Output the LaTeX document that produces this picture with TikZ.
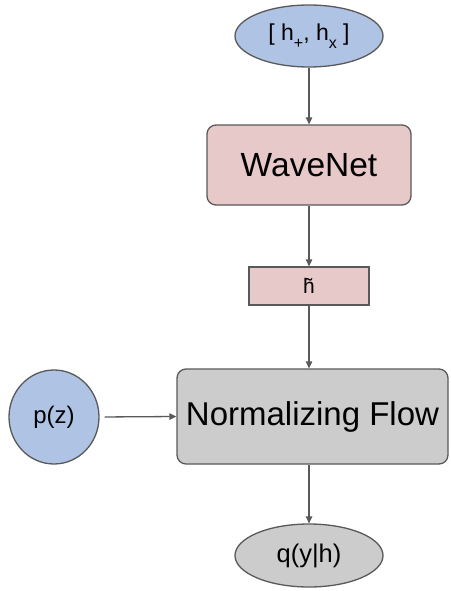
\documentclass[tikz,border=0pt]{standalone}
\usepackage{fontspec}
\setmainfont{Liberation Sans}
\usetikzlibrary{shapes.geometric,arrows.meta}

\definecolor{ovalblue}{HTML}{AFC3E5}
\definecolor{netpink}{HTML}{E8C9C9}
\definecolor{flowgray}{HTML}{CCCCCC}
\definecolor{edgegray}{HTML}{595959}

\newcommand{\lowsub}[1]{\raisebox{-0.32em}{\fontsize{16}{18}\selectfont #1}}

\tikzset{
  oval/.style={ellipse, draw=edgegray, line width=1.3pt, inner sep=0pt},
  block/.style={rectangle, rounded corners=9pt, draw=edgegray, line width=1.3pt, inner sep=0pt},
  link/.style={draw=edgegray, line width=1.3pt, -{Triangle[length=7pt,width=6.5pt]}}
}

\begin{document}
\begin{tikzpicture}[x=1pt, y=-1pt]
\useasboundingbox (0,0) rectangle (450,591);

%% ---- Ingresso ----
\node[oval, fill=ovalblue, minimum width=148pt, minimum height=62pt,
      font=\fontsize{23}{26}\selectfont]
    (hin) at (309,36) {[ h\lowsub{+}, h\lowsub{x} ]};

%% ---- WaveNet ----
\node[block, fill=netpink, minimum width=204pt, minimum height=80pt,
      font=\fontsize{33.5}{38}\selectfont]
    (wavenet) at (309,165) {WaveNet};

%% ---- Rappresentazione ----
\node[block, rounded corners=0pt, fill=netpink, minimum width=120pt, minimum height=38pt,
      font=\fontsize{21}{24}\selectfont]
    (htilde) at (309,286) {h̃};

%% ---- Normalizing Flow ----
\node[block, fill=flowgray, minimum width=271pt, minimum height=95pt,
      font=\fontsize{33}{38}\selectfont]
    (nflow) at (312.5,416.5) {Normalizing Flow};

%% ---- Prior ----
\node[oval, fill=ovalblue, minimum width=90pt, minimum height=94pt,
      font=\fontsize{24}{27}\selectfont]
    (prior) at (54,417) {p(z)};

%% ---- Uscita ----
\node[oval, fill=flowgray, minimum width=148pt, minimum height=63pt,
      font=\fontsize{25.5}{28}\selectfont]
    (qout) at (309,555.5) {q(y|h)};

%% ---- Frecce ----
\draw[link] (hin.south) -- (wavenet.north);
\draw[link] (wavenet.south) -- (htilde.north);
\draw[link] (htilde.south) -- (htilde.south |- nflow.north);
\draw[link, shorten <=5pt] (prior.east) -- (nflow.west);
\draw[link] (htilde.south |- nflow.south) -- (qout.north);

\end{tikzpicture}
\end{document}
